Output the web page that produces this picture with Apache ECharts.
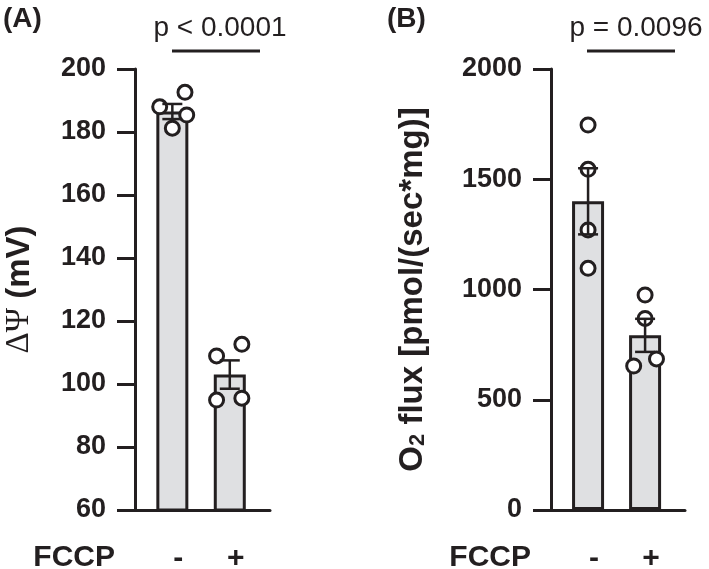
<!DOCTYPE html>
<html>
<head>
<meta charset="utf-8">
<script src="https://cdn.jsdelivr.net/npm/echarts@6/dist/echarts.min.js"></script>
<style>
html,body{margin:0;padding:0;background:#fff;}
#c{width:709px;height:569px;}
</style>
</head>
<body>
<div id="c"></div>
<script>
// ---- data ----
const categories = ['-', '+'];            // FCCP absent / present
const psiMean = [186.5, 103.0];            // ΔΨ (mV), bar heights
const psiSem = [2.4, 4.5];
const psiPoints = [[188.0, 192.6, 185.4, 181.2], [108.9, 112.6, 94.9, 95.5]];
const psiJitter = [[-0.22, 0.22, 0.25, 0.0], [-0.23, 0.21, -0.23, 0.21]];
const o2Mean = [1400, 792];                // O2 flux [pmol/(sec*mg)]
const o2Sem = [150, 75];
const o2Points = [[1746, 1545, 1270, 1096], [975, 869, 653, 685]];
const o2Jitter = [[0, 0, 0, 0], [0, 0, -0.2, 0.2]];
const psiTicks = [60, 80, 100, 120, 140, 160, 180, 200];
const o2Ticks = [0, 500, 1000, 1500, 2000];
const pLabels = ['p < 0.0001', 'p = 0.0096'];

const INK = '#231f20';
const FONT = '"Liberation Sans", Arial, sans-serif';
const BAR_FILL = '#dfe0e2';

function barData(means) { return means.map((m, i) => [i, m]); }
function errData(means, sems) { return means.map((m, i) => [i, m, sems[i]]); }
function pointData(points, jitter) {
  const out = [];
  points.forEach((arr, i) => arr.forEach((v, j) => out.push([i + jitter[i][j], v])));
  return out;
}

function xAxisFor(gridIndex) {
  return {
    type: 'value', gridIndex, min: -0.65, max: 1.7,
    splitLine: {show: false},
    axisLine: {show: true, onZero: false, lineStyle: {color: INK, width: 3}},
    axisTick: {show: false},
    axisLabel: {
      customValues: [0, 1],
      formatter: v => categories[Math.round(v)],
      color: INK, fontFamily: FONT, fontWeight: 'bold', fontSize: 30,
      margin: 34, padding: [0, 0, 0, 12]
    },
    name: 'FCCP', nameLocation: 'start', nameGap: 20,
    nameTextStyle: {color: INK, fontFamily: FONT, fontWeight: 'bold', fontSize: 30,
      verticalAlign: 'top', padding: [33, 0, 0, 0]}
  };
}

function yAxisFor(gridIndex, ticks, name, nameGap, rich) {
  return {
    type: 'value', gridIndex,
    min: ticks[0], max: ticks[ticks.length - 1], interval: ticks[1] - ticks[0],
    splitLine: {show: false},
    axisLine: {show: true, onZero: false, lineStyle: {color: INK, width: 3}},
    axisTick: {show: true, inside: false, length: 18, lineStyle: {color: INK, width: 3}},
    axisLabel: {color: INK, fontFamily: FONT, fontWeight: 'bold', fontSize: 27, margin: 29,
      formatter: v => String(v)},
    name, nameLocation: 'middle', nameRotate: 90, nameGap,
    nameTextStyle: {color: INK, fontFamily: FONT, fontWeight: 'bold', fontSize: 33, rich}
  };
}

function errRender(params, api) {
  const x = api.value(0), m = api.value(1), s = api.value(2);
  const top = api.coord([x, m + s]);
  const bot = api.coord([x, m - s]);
  const hw = 10;
  const st = {stroke: INK, lineWidth: 2.5, fill: null};
  return {
    type: 'group',
    children: [
      {type: 'line', shape: {x1: top[0], y1: top[1], x2: bot[0], y2: bot[1]}, style: st},
      {type: 'line', shape: {x1: top[0] - hw, y1: top[1], x2: top[0] + hw, y2: top[1]}, style: st},
      {type: 'line', shape: {x1: bot[0] - hw, y1: bot[1], x2: bot[0] + hw, y2: bot[1]}, style: st}
    ]
  };
}

function seriesFor(idx, means, sems, points, jitter) {
  return [
    {type: 'bar', xAxisIndex: idx, yAxisIndex: idx, data: barData(means), barWidth: 32,
      itemStyle: {color: BAR_FILL, borderColor: INK, borderWidth: 3}, z: 2, clip: true, silent: true},
    {type: 'scatter', xAxisIndex: idx, yAxisIndex: idx, data: pointData(points, jitter),
      symbol: 'circle', symbolSize: 14,
      itemStyle: {color: '#ffffff', borderColor: INK, borderWidth: 3, opacity: 1}, z: 3, silent: true},
    {type: 'custom', xAxisIndex: idx, yAxisIndex: idx, data: errData(means, sems),
      renderItem: errRender, z: 4, silent: true}
  ];
}

const chart = echarts.init(document.getElementById('c'), null, {renderer: 'canvas'});
chart.setOption({
  animation: false,
  backgroundColor: '#ffffff',
  grid: [
    {left: 135, top: 69, width: 135, height: 441, containLabel: false, outerBoundsMode: 'none'},
    {left: 551, top: 69, width: 134, height: 441, containLabel: false, outerBoundsMode: 'none'}
  ],
  xAxis: [xAxisFor(0), xAxisFor(1)],
  yAxis: [
    yAxisFor(0, psiTicks, '{sym|ΔΨ} {b|(mV)}', 99, {
      sym: {fontFamily: '"Liberation Serif", "DejaVu Serif", serif', fontSize: 33, fontWeight: 'normal', color: INK},
      b: {fontFamily: FONT, fontSize: 33, fontWeight: 'bold', color: INK}
    }),
    yAxisFor(1, o2Ticks, '{b|O}{sub|2}{b| flux [pmol/(sec*mg)]}', 122, {
      b: {fontFamily: FONT, fontSize: 33, fontWeight: 'bold', color: INK, lineHeight: 33},
      sub: {fontFamily: FONT, fontSize: 22, fontWeight: 'bold', color: INK, verticalAlign: 'bottom',
        lineHeight: 22, padding: [14, 0, 0, 0]}
    })
  ],
  series: [].concat(
    seriesFor(0, psiMean, psiSem, psiPoints, psiJitter),
    seriesFor(1, o2Mean, o2Sem, o2Points, o2Jitter)
  ),
  graphic: [
    {type: 'text', left: 3, top: 5, style: {text: '(A)', font: 'bold 28px ' + FONT, fill: INK}},
    {type: 'text', left: 387, top: 5, style: {text: '(B)', font: 'bold 28px ' + FONT, fill: INK}},
    {type: 'text', x: 220, y: 28, style: {text: pLabels[0], font: '28px ' + FONT, fill: INK, align: 'center', verticalAlign: 'middle'}},
    {type: 'text', x: 636, y: 28, style: {text: pLabels[1], font: '28px ' + FONT, fill: INK, align: 'center', verticalAlign: 'middle'}},
    {type: 'line', shape: {x1: 172, y1: 51, x2: 260, y2: 51}, style: {stroke: INK, lineWidth: 3}},
    {type: 'line', shape: {x1: 587, y1: 51, x2: 675, y2: 51}, style: {stroke: INK, lineWidth: 3}}
  ]
});
</script>
</body>
</html>
